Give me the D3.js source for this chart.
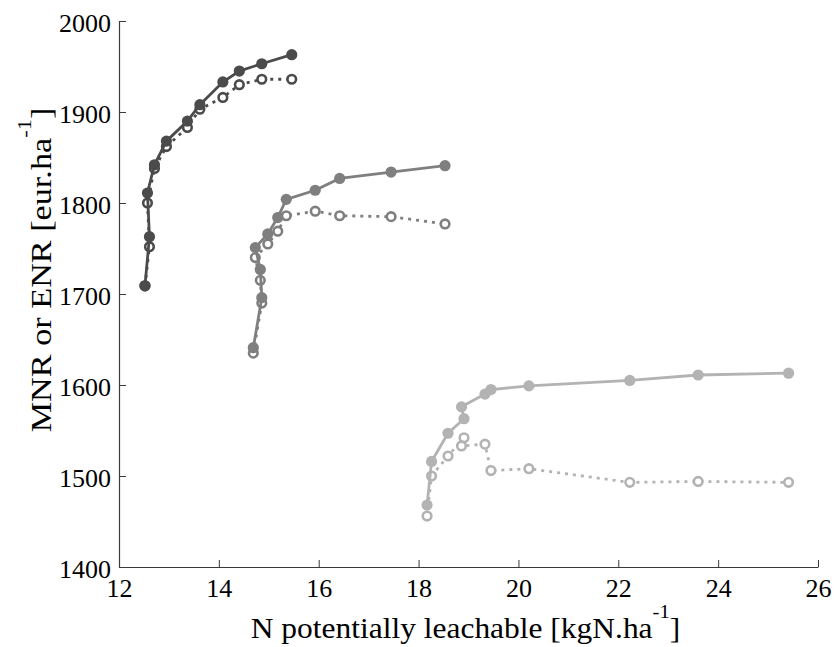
<!DOCTYPE html>
<html>
<head>
<meta charset="utf-8">
<script src="https://cdn.jsdelivr.net/npm/d3@7"></script>
<style>
  html, body { margin: 0; padding: 0; background: #fff; }
  svg { display: block; }
  svg text { font-family: "Liberation Serif", "Times New Roman", Times, "DejaVu Serif", serif !important; fill: #000; }
</style>
</head>
<body>
<svg id="chart" width="834" height="647"></svg>
<script>
// Nitrogen leachable (x) for each fertilisation strategy, shared by MNR and ENR
const xDark  = [12.52, 12.61, 12.57, 12.71, 12.95, 13.37, 13.62, 14.08, 14.41, 14.86, 15.46];
const xMid   = [14.69, 14.86, 14.83, 14.73, 14.98, 15.18, 15.35, 15.93, 16.42, 17.45, 18.53];
const xLight = [18.17, 18.26, 18.59, 18.91, 18.86, 19.33, 19.45, 20.21, 22.23, 23.60, 25.41];

// MNR (solid, filled markers) and ENR (dotted, open markers), eur/ha
const mnrDark  = [1709, 1763, 1811, 1842, 1868, 1890, 1908, 1933, 1945, 1953, 1963];
const enrDark  = [1709, 1752, 1800, 1838, 1862, 1883, 1903, 1916, 1930, 1936, 1936];
const mnrMid   = [1641, 1696, 1727, 1751, 1766, 1784, 1804, 1814, 1827, 1834, 1841];
const enrMid   = [1635, 1690, 1715, 1740, 1755, 1769, 1786, 1791, 1786, 1785, 1777];
const mnrLight = [1468, 1516, 1547, 1563, 1576, 1590, 1595, 1599, 1605, 1611, 1613];
const enrLight = [1456, 1500, 1522, 1542, 1533, 1535, 1506, 1508, 1493, 1494, 1493];

const xTicks = [12, 14, 16, 18, 20, 22, 24, 26];
const yTicks = [1400, 1500, 1600, 1700, 1800, 1900, 2000];

const groups = [
  { x: xDark,  mnr: mnrDark,  enr: enrDark,  color: "#4b4b4b" },
  { x: xMid,   mnr: mnrMid,   enr: enrMid,   color: "#7f7f7f" },
  { x: xLight, mnr: mnrLight, enr: enrLight, color: "#b3b3b3" }
];

const serif = '"Liberation Serif", "Times New Roman", Times, "DejaVu Serif", serif';
const svg = d3.select("#chart");
const margin = { left: 119, right: 16, top: 21, bottom: 80 };
const W = 834, H = 647;

const x = d3.scaleLinear().domain([12, 26]).range([margin.left, W - margin.right]);
const y = d3.scaleLinear().domain([1400, 2000]).range([H - margin.bottom, margin.top]);

// Axes with inward ticks
const xAxis = svg.append("g")
  .attr("transform", `translate(0,${y(1400)})`)
  .call(d3.axisBottom(x).tickValues(xTicks).tickFormat(d3.format("d"))
    .tickSizeInner(-7).tickSizeOuter(0).tickPadding(0));
const yAxis = svg.append("g")
  .attr("transform", `translate(${x(12)},0)`)
  .call(d3.axisLeft(y).tickValues(yTicks).tickFormat(d3.format("d"))
    .tickSizeInner(-7).tickSizeOuter(0).tickPadding(8));

[xAxis, yAxis].forEach(g => {
  g.attr("font-family", serif).attr("font-size", 26);
  g.selectAll(".domain").attr("stroke", "#3a3a3a").attr("stroke-width", 1.2);
  g.selectAll(".tick line").attr("stroke", "#3a3a3a").attr("stroke-width", 1);
  g.selectAll(".tick text").attr("fill", "#000");
});
xAxis.selectAll(".tick text").attr("y", 30).attr("dy", null);
yAxis.selectAll(".tick text").attr("dy", "0.4em");

// Series: dotted ENR first, solid MNR on top
groups.forEach(g => {
  const enrPts = g.x.map((v, i) => [v, g.enr[i]]);
  const mnrPts = g.x.map((v, i) => [v, g.mnr[i]]);
  const line = d3.line().x(d => x(d[0])).y(d => y(d[1]));

  svg.append("path").datum(enrPts).attr("d", line)
    .attr("fill", "none").attr("stroke", g.color)
    .attr("stroke-width", 2.8).attr("stroke-dasharray", "3,5");
  svg.append("g").selectAll("circle").data(enrPts).join("circle")
    .attr("cx", d => x(d[0])).attr("cy", d => y(d[1])).attr("r", 4.3)
    .attr("fill", "#fff").attr("stroke", g.color).attr("stroke-width", 2.6);

  svg.append("path").datum(mnrPts).attr("d", line)
    .attr("fill", "none").attr("stroke", g.color).attr("stroke-width", 2.8);
  svg.append("g").selectAll("circle").data(mnrPts).join("circle")
    .attr("cx", d => x(d[0])).attr("cy", d => y(d[1])).attr("r", 5.6)
    .attr("fill", g.color);
});

// Axis titles
const xl = svg.append("text")
  .attr("transform", `translate(${(x(12) + x(26)) / 2 - 3},638) scale(1.085,1)`)
  .attr("text-anchor", "middle").attr("font-family", serif).attr("font-size", 29);
xl.append("tspan").text("N potentially leachable [kgN.ha");
xl.append("tspan").attr("dy", -20).attr("font-size", 19).text("-1");
xl.append("tspan").attr("dy", 20).text("]");

const yl = svg.append("text")
  .attr("transform", `translate(51,270) rotate(-90) scale(1.18,1)`)
  .attr("text-anchor", "middle").attr("font-family", serif).attr("font-size", 29);
yl.append("tspan").text("MNR or ENR [eur.ha");
yl.append("tspan").attr("dy", -20).attr("font-size", 19).text("-1");
yl.append("tspan").attr("dy", 20).text("]");
</script>
</body>
</html>
